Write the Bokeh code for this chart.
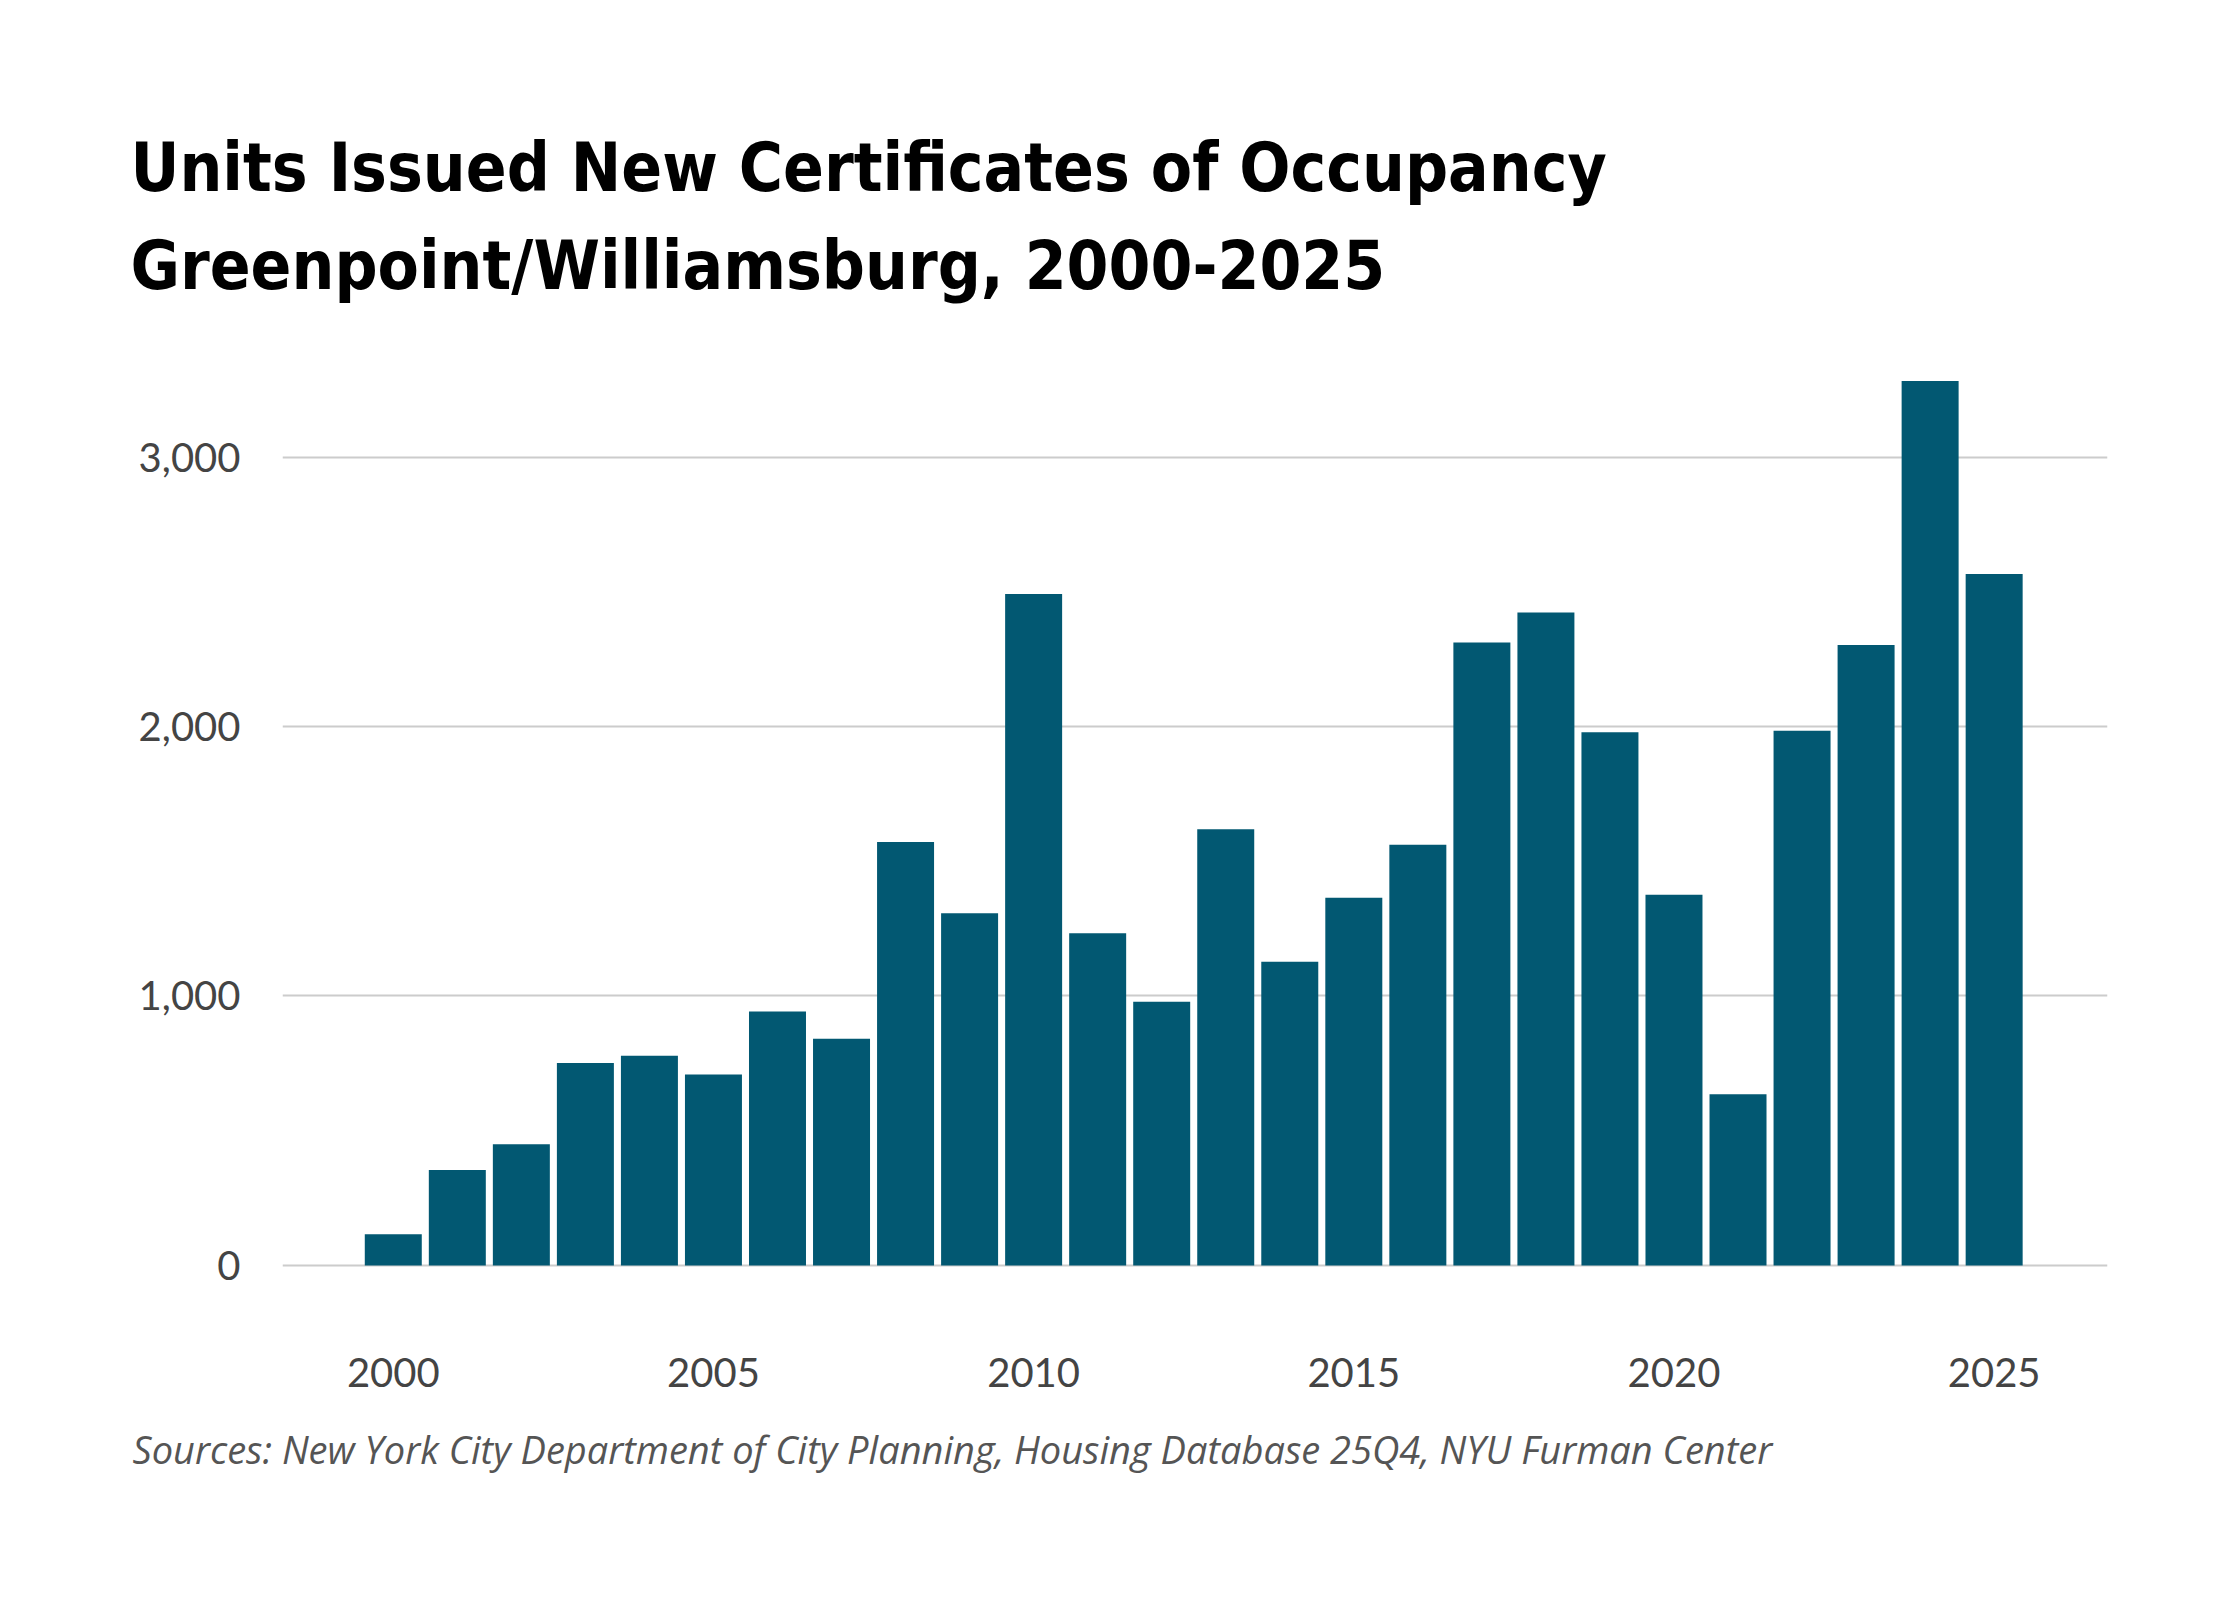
from bokeh.plotting import figure
from bokeh.models import Title, NumeralTickFormatter, FixedTicker, Range1d
from bokeh.embed import file_html
from bokeh.resources import INLINE

# units issued new certificates of occupancy, Greenpoint/Williamsburg
years = list(range(2000, 2026))
units = [116, 354, 450, 751, 778, 709, 942, 841, 1571, 1307, 2492, 1233, 979,
         1619, 1127, 1365, 1561, 2312, 2423, 1979, 1376, 635, 1984, 2302, 3282, 2566]

y_ticks = [0, 1000, 2000, 3000]
x_ticks = [2000, 2005, 2010, 2015, 2020, 2025]

title_1 = "Units Issued New Certificates of Occupancy"
title_2 = "Greenpoint/Williamsburg, 2000-2025"
source = "Sources: New York City Department of City Planning, Housing Database 25Q4, NYU Furman Center"

bar_color = "#025872"
tick_color = "#444444"
title_font = "'Liberation Sans Narrow', 'DejaVu Sans Condensed', Roboto"

p = figure(width=2224, height=1584, output_backend="svg", toolbar_location=None,
           x_range=Range1d(1998.27, 2026.77), y_range=Range1d(-52, 3436),
           min_border_left=282, min_border_right=117,
           min_border_top=339, min_border_bottom=305)
p.outline_line_color = None
p.background_fill_color = "white"
p.border_fill_color = "white"

p.vbar(x=years, top=units, width=0.89, bottom=0, color=bar_color, line_color=None)

# two-line title
t = Title(text=title_1 + "\n" + title_2, text_font=title_font, text_font_size="67px",
          text_font_style="bold", text_color="black", align="left", offset=-152,
          standoff=68, text_line_height=1.26)
p.add_layout(t, "above")

src = Title(text=source, text_font="Open Sans", text_font_size="38px",
            text_font_style="italic", text_color="#555555", align="left", offset=-150, standoff=62)
p.add_layout(src, "below")

# axes
p.yaxis.ticker = FixedTicker(ticks=y_ticks)
p.yaxis.formatter = NumeralTickFormatter(format="0,0")
p.xaxis.ticker = FixedTicker(ticks=x_ticks)
for ax in (p.xaxis, p.yaxis):
    ax.axis_line_color = None
    ax.major_tick_line_color = None
    ax.minor_tick_line_color = None
    ax.major_label_text_font = "Lato"
    ax.major_label_text_font_size = "40px"
    ax.major_label_text_color = tick_color
p.yaxis.major_label_standoff = 36
p.xaxis.major_label_standoff = 72

p.xgrid.grid_line_color = None
p.ygrid.ticker = FixedTicker(ticks=y_ticks)
p.ygrid.grid_line_color = "#cccccc"
p.ygrid.grid_line_width = 2

open("out.html", "w").write(file_html(p, INLINE))
